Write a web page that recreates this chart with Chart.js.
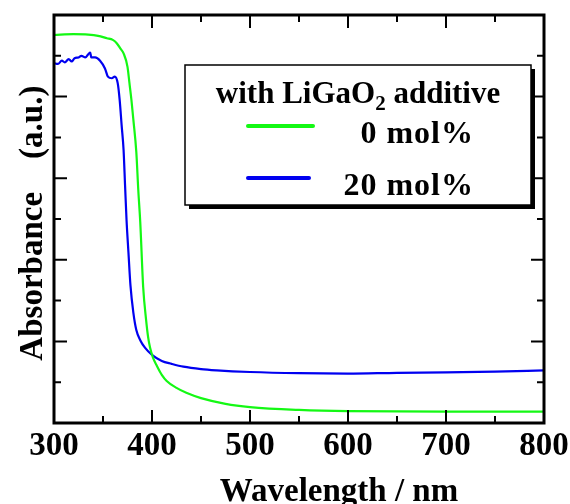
<!DOCTYPE html>
<html>
<head>
<meta charset="utf-8">
<script src="https://cdn.jsdelivr.net/npm/chart.js@4"></script>
<style>
  body { margin: 0; background: #fff; }
  canvas { display: block; }
</style>
</head>
<body>
<canvas id="absChart" width="570" height="504"></canvas>
<script>
// Wavelength (nm) and absorbance (a.u.)
const greenNm  = [300, 320, 335, 345, 354, 360, 364, 368, 371, 375, 377, 379, 381, 384, 386, 388, 391, 394, 396, 398, 401, 405, 410, 415, 425, 435, 450, 475, 500, 550, 600, 700, 800];
const greenAbs = [9.51, 9.53, 9.52, 9.49, 9.43, 9.39, 9.31, 9.17, 9.06, 8.73, 8.33, 7.92, 7.43, 6.64, 5.71, 4.93, 3.33, 2.52, 2.11, 1.85, 1.6, 1.4, 1.18, 1.03, 0.86, 0.74, 0.61, 0.47, 0.39, 0.32, 0.29, 0.28, 0.28];

const blueNm  = [300, 304, 308, 311, 315, 318, 321, 325, 328, 332, 335, 337, 338, 342, 347, 352, 355, 359, 362, 365, 367, 369, 371, 372.5, 374, 376, 378, 381, 384, 388, 393, 400, 410, 420, 432, 450, 466, 500, 550, 600, 650, 700, 750, 800];
const blueAbs = [8.82, 8.80, 8.88, 8.84, 8.92, 8.86, 8.94, 8.96, 9.00, 8.96, 9.04, 9.08, 8.96, 8.96, 8.88, 8.69, 8.49, 8.45, 8.49, 8.33, 7.92, 7.30, 6.69, 5.83, 4.98, 4.17, 3.38, 2.70, 2.28, 2.03, 1.84, 1.67, 1.52, 1.45, 1.38, 1.32, 1.29, 1.25, 1.22, 1.21, 1.23, 1.24, 1.26, 1.29];

const seriesLabels = ['0 mol%', '20 mol%'];
const seriesColors = ['rgb(20, 248, 20)', 'rgb(0, 0, 240)'];
const legendTitle = ['with LiGaO', '2', ' additive'];
const xTitle = 'Wavelength / nm';
const yTitle = 'Absorbance    (a.u.) ';

const serif = '"Liberation Serif", "Times New Roman", serif';

function toPoints(xs, ys) {
    return xs.map((x, i) => ({ x: x, y: ys[i] }));
}

// frame, inward ticks, legend box and axis titles
const decorations = {
    id: 'decorations',
    afterDraw(chart) {
        const ctx = chart.ctx;
        const a = chart.chartArea;
        const xs = chart.scales.x;
        const ys = chart.scales.y;
        ctx.save();

        // ticks
        ctx.strokeStyle = '#000';
        ctx.lineWidth = 2;
        ctx.beginPath();
        for (let v = 300; v <= 800; v += 50) {
            const px = xs.getPixelForValue(v);
            const len = v % 100 === 0 ? 13 : 7;
            ctx.moveTo(px, a.bottom); ctx.lineTo(px, a.bottom - len);
            ctx.moveTo(px, a.top); ctx.lineTo(px, a.top + len);
        }
        for (let v = 0; v <= 10; v++) {
            const py = ys.getPixelForValue(v);
            const len = v % 2 === 0 ? 13 : 7;
            ctx.moveTo(a.left, py); ctx.lineTo(a.left + len, py);
            ctx.moveTo(a.right, py); ctx.lineTo(a.right - len, py);
        }
        ctx.stroke();

        // frame
        ctx.lineWidth = 3;
        ctx.strokeRect(a.left, a.top, a.right - a.left, a.bottom - a.top);

        // legend box with drop shadow
        const bx = a.left + 131, by = a.top + 50, bw = 346, bh = 140;
        ctx.fillStyle = '#000';
        ctx.fillRect(bx + 4, by + 4, bw, bh);
        ctx.fillStyle = '#fff';
        ctx.fillRect(bx, by, bw, bh);
        ctx.lineWidth = 1.5;
        ctx.strokeRect(bx, by, bw, bh);

        // legend title with subscript
        ctx.fillStyle = '#000';
        ctx.textBaseline = 'alphabetic';
        ctx.textAlign = 'left';
        const big = 'bold 31px ' + serif;
        const small = 'bold 21px ' + serif;
        ctx.font = big;
        const w1 = ctx.measureText(legendTitle[0]).width;
        const w3 = ctx.measureText(legendTitle[2]).width;
        ctx.font = small;
        const w2 = ctx.measureText(legendTitle[1]).width;
        let tx = bx + bw / 2 - (w1 + w2 + w3) / 2;
        const tb = by + 38;
        ctx.font = big;
        ctx.fillText(legendTitle[0], tx, tb);
        ctx.font = small;
        ctx.fillText(legendTitle[1], tx + w1, tb + 7);
        ctx.font = big;
        ctx.fillText(legendTitle[2], tx + w1 + w2, tb);

        // legend entries
        const rows = [{ y: by + 61, x2: bx + 128, base: by + 78 }, { y: by + 113, x2: bx + 124, base: by + 130 }];
        chart.data.datasets.forEach((ds, i) => {
            const r = rows[i];
            ctx.strokeStyle = ds.borderColor;
            ctx.lineWidth = 4;
            ctx.lineCap = 'round';
            ctx.beginPath();
            ctx.moveTo(bx + 63, r.y);
            ctx.lineTo(r.x2, r.y);
            ctx.stroke();
            ctx.fillStyle = '#000';
            ctx.font = 'bold 32px ' + serif;
            ctx.letterSpacing = '1px';
            ctx.textAlign = 'right';
            ctx.fillText(ds.label, bx + 289, r.base);
            ctx.letterSpacing = '0px';
        });

        // axis titles
        ctx.font = 'bold 33px ' + serif;
        ctx.textAlign = 'center';
        ctx.fillStyle = '#000';
        ctx.fillText(xTitle, a.left + 285, 501);

        ctx.translate(42, (a.top + a.bottom) / 2);
        ctx.rotate(-Math.PI / 2);
        ctx.fillText(yTitle, 0, 0);

        ctx.restore();
    }
};

const absChart = new Chart(document.getElementById('absChart').getContext('2d'), {
    type: 'line',
    data: {
        datasets: [{
            label: seriesLabels[0],
            data: toPoints(greenNm, greenAbs),
            borderColor: seriesColors[0],
            borderWidth: 2.2,
            pointRadius: 0,
            cubicInterpolationMode: 'monotone',
            fill: false
        }, {
            label: seriesLabels[1],
            data: toPoints(blueNm, blueAbs),
            borderColor: seriesColors[1],
            borderWidth: 2.2,
            pointRadius: 0,
            cubicInterpolationMode: 'monotone',
            fill: false
        }]
    },
    options: {
        responsive: false,
        animation: false,
        layout: { padding: { top: 15, right: 26, left: 0, bottom: 0 } },
        plugins: {
            legend: { display: false },
            title: { display: false },
            tooltip: { enabled: false }
        },
        scales: {
            x: {
                type: 'linear',
                min: 300,
                max: 800,
                grid: { display: false },
                border: { display: false },
                ticks: {
                    stepSize: 100,
                    color: '#000',
                    padding: -4,
                    maxRotation: 0,
                    font: { family: serif, size: 33, weight: 'bold' }
                },
                afterFit(scale) { scale.height = 81; }
            },
            y: {
                type: 'linear',
                min: 0,
                max: 10,
                grid: { display: false },
                border: { display: false },
                ticks: { display: false },
                afterFit(scale) { scale.width = 54; }
            }
        }
    },
    plugins: [decorations]
});
</script>
</body>
</html>
